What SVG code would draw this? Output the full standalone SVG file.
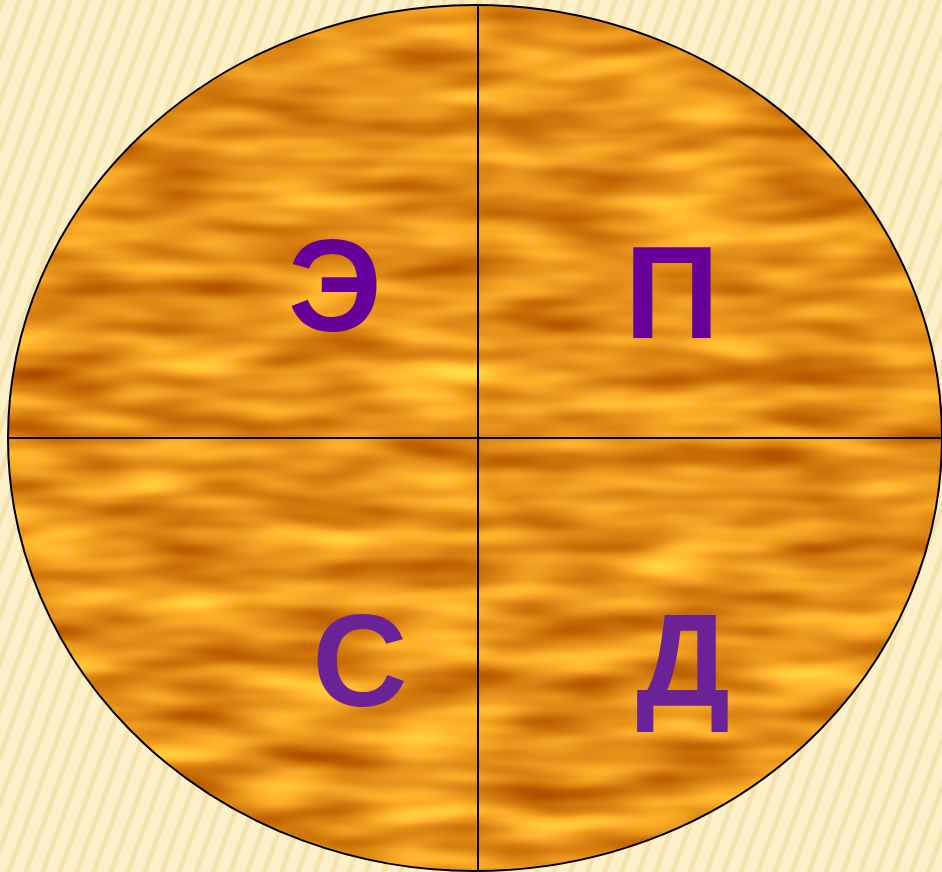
<svg xmlns="http://www.w3.org/2000/svg" width="942" height="872" viewBox="0 0 942 872">
<defs>
<pattern id="stripes" patternUnits="userSpaceOnUse" width="16" height="16" patternTransform="rotate(20)">
<rect width="16" height="16" fill="#FBF0C8"/>
<rect x="0" y="0" width="5" height="16" fill="#F1DEA4" opacity="0.75"/>
</pattern>
<filter id="tex" x="0" y="0" width="942" height="872" filterUnits="userSpaceOnUse" color-interpolation-filters="sRGB">
<feTurbulence type="fractalNoise" baseFrequency="0.008 0.036" numOctaves="2" seed="7" result="n"/>
<feColorMatrix in="n" type="matrix" values="0.6 0 0 0 0.6  0.75 0 0 0 0.195  0.4 0 0 0 -0.1  0 0 0 0 1" result="c"/>
<feComposite in="c" in2="SourceGraphic" operator="in"/>
</filter>
<style>
.lt{font-family:"Liberation Sans",Arial,sans-serif;font-weight:bold;font-size:132px;text-anchor:middle}
.a{fill:#660099}
.b{fill:#6A2396}
.ln{stroke:#000;stroke-width:2;fill:none}
</style>
</defs>
<rect width="942" height="872" fill="url(#stripes)"/>
<g id="disc">
<ellipse cx="475" cy="438" rx="467" ry="433" fill="#E08A10"/>
<ellipse cx="475" cy="438" rx="467" ry="433" fill="#000" filter="url(#tex)"/>
<ellipse cx="475" cy="438" rx="467" ry="433" class="ln"/>
</g>
<g id="connectors">
<line x1="478" y1="5" x2="478" y2="871" class="ln"/>
<line x1="8" y1="438" x2="942" y2="438" class="ln"/>
</g>
<g id="node-e"><text x="335" y="331" class="lt a">Э</text></g>
<g id="node-p"><text x="672" y="338" class="lt a">П</text></g>
<g id="node-s"><text x="360" y="706" class="lt b">С</text></g>
<g id="node-d"><text x="683" y="706" class="lt b">Д</text></g>
</svg>
